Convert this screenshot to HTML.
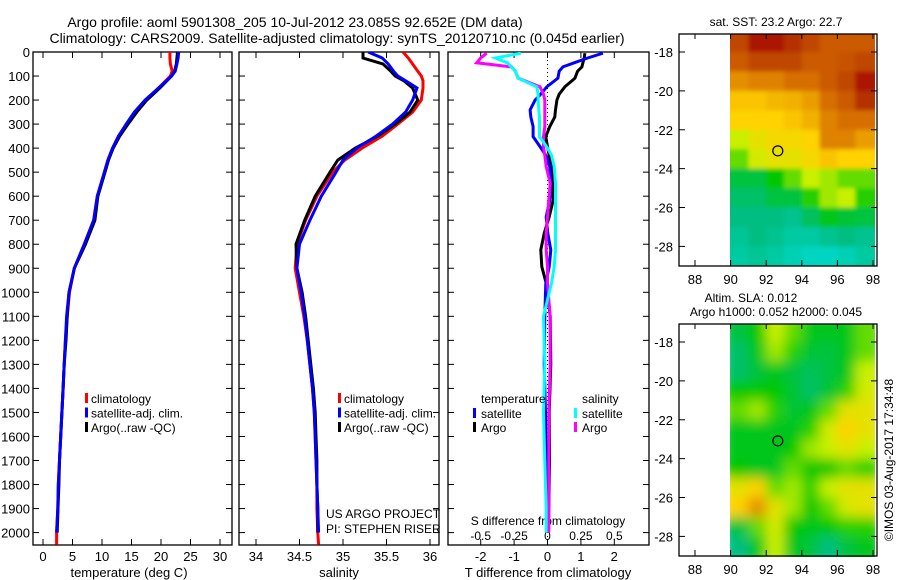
<!DOCTYPE html>
<html><head><meta charset="utf-8"><style>
body{margin:0;background:#fff;width:900px;height:580px;overflow:hidden}
svg{display:block;font-family:"Liberation Sans",sans-serif}
</style></head><body>
<svg id="c" width="900" height="580" xmlns="http://www.w3.org/2000/svg">
<defs>
<clipPath id="clipT"><rect x="33" y="52" width="199" height="493"/></clipPath>
<clipPath id="clipS"><rect x="239" y="52" width="200" height="493"/></clipPath>
<clipPath id="clipD"><rect x="448" y="52" width="201" height="493"/></clipPath>
<clipPath id="clipM2"><rect x="730" y="324" width="145" height="233"/></clipPath>
<filter id="blur"><feGaussianBlur stdDeviation="6"/></filter>
<filter id="blur2"><feGaussianBlur stdDeviation="2"/></filter>
<clipPath id="clipM1"><rect x="730" y="34" width="145" height="232"/></clipPath>
</defs>
</svg>
<script>
// ---- data ----
const depthT = [0,25,50,80,100,120,150,200,250,300,350,400,450,500,600,700,800,900,1000,1100,1200,1300,1400,1500,1600,1700,1800,1900,2000,2050];
const argoT = [22.8,22.7,22.6,22.3,21.8,21.0,19.8,17.6,15.9,14.4,13.0,11.9,11.1,10.5,9.3,8.8,7.2,5.3,4.4,4.1,3.9,3.6,3.4,3.2,3.0,2.8,2.7,2.55,2.4];
const climT = [21.5,21.5,21.6,21.9,21.6,20.8,19.6,17.4,15.7,14.2,12.8,11.8,11.0,10.4,9.2,8.6,7.0,5.3,4.5,4.1,3.8,3.6,3.4,3.2,3.0,2.8,2.6,2.5,2.3,2.3];
const satT = [23.0,22.9,22.7,22.4,21.8,20.9,19.6,17.3,15.5,14.1,12.8,11.8,11.0,10.4,9.2,8.6,7.0,5.3,4.4,4.0,3.8,3.6,3.4,3.2,3.0,2.8,2.6,2.5,2.3];
const argoS = [35.23,35.23,35.46,35.55,35.6,35.7,35.8,35.86,35.77,35.6,35.4,35.14,34.94,34.85,34.68,34.56,34.46,34.47,34.53,34.57,34.6,34.63,34.66,34.68,34.69,34.7,34.7,34.71,34.71];
const climS = [35.69,35.75,35.8,35.86,35.9,35.92,35.92,35.9,35.8,35.63,35.45,35.22,35.02,34.88,34.7,34.57,34.47,34.45,34.5,34.55,34.59,34.62,34.65,34.67,34.68,34.69,34.7,34.7,34.71,34.72];
const satS = [35.29,35.45,35.52,35.58,35.63,35.72,35.85,35.8,35.72,35.57,35.38,35.16,35.0,34.92,34.75,34.62,34.5,34.47,34.52,34.56,34.59,34.62,34.65,34.67,34.68,34.69,34.7,34.71,34.72];
const depthD = [5,25,45,62,80,109,145,175,200,241,270,310,352,395,430,477,546,616,686,755,824,893,962,1100,1300,1500,1700,1900,2000];
const dTargo = [1.12,1.1,1.06,1.03,0.9,0.82,0.52,0.35,0.28,0.24,0.22,0.07,-0.05,0,0.05,0.13,0.15,0.17,0.05,-0.1,-0.2,-0.17,-0.04,0.08,0.1,0.05,0.06,0.04,0.03];
const dTsat = [1.66,1.2,0.8,0.46,0.35,0.31,-0.02,-0.2,-0.37,-0.52,-0.5,-0.43,-0.43,-0.22,-0.05,0.07,0.1,0.07,-0.04,0.01,0.1,0.05,-0.05,-0.08,-0.1,-0.06,-0.04,-0.02,-0.02];
const dSargo = [-0.455,-0.5,-0.53,-0.27,-0.24,-0.22,-0.056,-0.03,-0.02,-0.02,-0.02,-0.02,-0.03,-0.03,-0.02,-0.01,0.02,0.01,0,-0.01,-0.01,0,0,0.02,0.02,0.01,0.01,0.01,0.01];
const dSsat = [-0.2,-0.39,-0.3,-0.27,-0.24,-0.22,-0.08,-0.07,-0.07,-0.065,-0.06,-0.06,-0.06,-0.005,0.03,0.05,0.06,0.06,0.06,0.06,0.06,0.05,0.03,-0.03,-0.02,-0.03,-0.02,-0.01,-0.01];
const depthTicks = [0,100,200,300,400,500,600,700,800,900,1000,1100,1200,1300,1400,1500,1600,1700,1800,1900,2000];
const tempTicks = [0,5,10,15,20,25,30];
const salTicks = [34,34.5,35,35.5,36];
const tdTicks = [-2,-1,0,1,2];
const sdTicks = [-0.5,-0.25,0,0.25,0.5];
const lonTicks = [88,90,92,94,96,98];
const latTicks = [-18,-20,-22,-24,-26,-28];
const sstGrid = [
[0.85,0.95,0.95,0.9,0.85,0.8,0.8,0.8],
[0.8,0.85,0.85,0.85,0.8,0.8,0.82,0.85],
[0.7,0.72,0.72,0.75,0.75,0.8,0.85,0.95],
[0.62,0.62,0.64,0.65,0.68,0.75,0.8,0.9],
[0.6,0.6,0.6,0.62,0.65,0.72,0.75,0.75],
[0.5,0.55,0.58,0.58,0.6,0.72,0.72,0.68],
[0.45,0.52,0.55,0.55,0.58,0.62,0.6,0.6],
[0.35,0.35,0.4,0.45,0.5,0.48,0.45,0.45],
[0.32,0.32,0.35,0.35,0.42,0.48,0.5,0.42],
[0.3,0.3,0.3,0.28,0.33,0.38,0.36,0.35],
[0.27,0.3,0.28,0.25,0.25,0.28,0.3,0.28],
[0.25,0.27,0.25,0.22,0.2,0.2,0.22,0.25]];
const slaGrid = [
[0.35,0.4,0.5,0.45,0.38,0.38,0.38,0.45],
[0.32,0.38,0.48,0.42,0.36,0.35,0.38,0.45],
[0.32,0.35,0.38,0.35,0.33,0.35,0.38,0.5],
[0.4,0.4,0.4,0.36,0.32,0.36,0.42,0.52],
[0.45,0.48,0.42,0.36,0.38,0.45,0.55,0.55],
[0.38,0.38,0.38,0.38,0.42,0.52,0.6,0.55],
[0.38,0.38,0.38,0.4,0.48,0.5,0.55,0.5],
[0.4,0.38,0.38,0.45,0.4,0.4,0.45,0.42],
[0.55,0.6,0.45,0.48,0.42,0.5,0.55,0.55],
[0.6,0.7,0.55,0.48,0.4,0.45,0.52,0.55],
[0.35,0.45,0.52,0.4,0.38,0.4,0.42,0.42],
[0.3,0.38,0.5,0.38,0.35,0.3,0.35,0.38]];
const argoLon = 92.652, argoLat = -23.085;

// ---- helpers ----
const svg = document.getElementById('c');
const NS = 'http://www.w3.org/2000/svg';
function mk(tag, attrs, parent){const e=document.createElementNS(NS,tag);for(const k in attrs)e.setAttribute(k,attrs[k]);(parent||svg).appendChild(e);return e;}
function txt(x,y,s,anchor,size,parent){const t=mk('text',{x:x,y:y,'text-anchor':anchor||'start','font-size':size||12,fill:'#000'},parent);t.textContent=s;return t;}
const yD = d => 52 + d*0.2403;
const xT = v => 43 + v*5.9;
const xS = v => 256 + (v-34)*87;
const xTd = v => 547.5 + v*33.4;
const xSd = v => 547.5 + v*133.6;

function line(xs, ds, xf, color, clip, name){
  const pts = xs.map((v,i)=>xf(v).toFixed(1)+','+yD(ds[i]).toFixed(1)).join(' ');
  const p = mk('polyline',{points:pts,fill:'none',stroke:color,'stroke-width':3,'clip-path':'url(#'+clip+')'});
  
  
}
function frame(x0,x1,name){
  const r = mk('rect',{x:x0,y:52,width:x1-x0,height:493,fill:'none',stroke:'#000','stroke-width':1.3});
  
  
  depthTicks.forEach(d=>{mk('line',{x1:x0,x2:x0+6,y1:yD(d),y2:yD(d),stroke:'#000'});mk('line',{x1:x1,x2:x1-6,y1:yD(d),y2:yD(d),stroke:'#000'});});
}

// titles
const t1 = txt(295,27,'Argo profile: aoml 5901308_205 10-Jul-2012 23.085S 92.652E (DM data)','middle',14);


const t2 = txt(337,43,'Climatology: CARS2009. Satellite-adjusted climatology: synTS_20120710.nc (0.045d earlier)','middle',14);



frame(33,232,'temperature-panel');
frame(239,439,'salinity-panel');
frame(448,649,'difference-panel');
depthTicks.forEach(d=>{const t=txt(30,yD(d)+5,String(d),'end',13);});
tempTicks.forEach(v=>{mk('line',{x1:xT(v),x2:xT(v),y1:545,y2:539,stroke:'#000'});mk('line',{x1:xT(v),x2:xT(v),y1:52,y2:58,stroke:'#000'});const t=txt(xT(v),561,String(v),'middle',13);});
const xl1=txt(129,577,'temperature (deg C)','middle',13);


line(climT,depthT,xT,'#f00','clipT','temperature-climatology-line');
line(argoT,depthT,xT,'#000','clipT','temperature-argo-line');
line(satT,depthT,xT,'#00f','clipT','temperature-satellite-line');

salTicks.forEach(v=>{mk('line',{x1:xS(v),x2:xS(v),y1:545,y2:539,stroke:'#000'});mk('line',{x1:xS(v),x2:xS(v),y1:52,y2:58,stroke:'#000'});const t=txt(xS(v),561,String(v),'middle',13);});
const xl2=txt(339,577,'salinity','middle',13);


line(climS,depthT,xS,'#f00','clipS','salinity-climatology-line');
line(argoS,depthT,xS,'#000','clipS','salinity-argo-line');
line(satS,depthT,xS,'#00f','clipS','salinity-satellite-line');
const p1=txt(326,518,'US ARGO PROJECT','start',12);


const p2=txt(326,533,'PI: STEPHEN RISER','start',12);



[[85,'legend-temperature'],[338,'legend-salinity']].forEach(([lx,nm])=>{
  const g = mk('g',{});
  
  
  [['#f00','climatology'],['#00f','satellite-adj. clim.'],['#000','Argo(..raw -QC)']].forEach((e,i)=>{
    mk('rect',{x:lx,y:393+i*14.5,width:3,height:10,fill:e[0]},g);
    txt(lx+6,403+i*14.5,e[1],'start',12,g);
  });
});

mk('line',{x1:547.5,x2:547.5,y1:52,y2:545,stroke:'#000','stroke-dasharray':'1,3'});
tdTicks.forEach(v=>{mk('line',{x1:xTd(v),x2:xTd(v),y1:545,y2:539,stroke:'#000'});mk('line',{x1:xTd(v),x2:xTd(v),y1:52,y2:58,stroke:'#000'});const t=txt(xTd(v),561,String(v),'middle',13);});
sdTicks.forEach(v=>{const t=txt(xSd(v),540,String(v),'middle',12);});
const xl3=txt(548,577,'T difference from climatology','middle',13);


const sl3=txt(548,525,'S difference from climatology','middle',12);


line(dTargo,depthD,xTd,'#000','clipD','t-diff-argo-line');
line(dTsat,depthD,xTd,'#00f','clipD','t-diff-satellite-line');
line(dSargo,depthD,xSd,'#f0f','clipD','s-diff-argo-line');
line(dSsat,depthD,xSd,'#0ff','clipD','s-diff-satellite-line');
const lg3 = mk('g',{});


txt(481,403,'temperature','start',12,lg3);
txt(582,403,'salinity','start',12,lg3);
[['#00f','satellite',473],['#000','Argo',473],['#0ff','satellite',574],['#f0f','Argo',574]].forEach((e,i)=>{
  const r=i%2;
  mk('rect',{x:e[2],y:408+r*14,width:3,height:10,fill:e[0]},lg3);
  txt(e[2]+8,418+r*14,e[1],'start',12,lg3);
});

function cmap(v){
  const st=[[0.15,[0,225,225]],[0.3,[0,190,130]],[0.4,[0,200,0]],[0.5,[200,240,0]],[0.6,[255,210,0]],[0.75,[215,110,0]],[0.9,[180,50,0]],[1,[160,0,0]]];
  if(v<=st[0][0])return 'rgb('+st[0][1]+')';
  for(let i=1;i<st.length;i++){if(v<=st[i][0]){const a=st[i-1],b=st[i],f=(v-a[0])/(b[0]-a[0]);return 'rgb('+a[1].map((c,k)=>Math.round(c+(b[1][k]-c)*f)).join(',')+')';}}
  return 'rgb(160,0,0)';
}
function mapPanel(top,grid,blur,name,clip,flt){
  const xL = lon => 695 + (lon-88)*17.8;
  const yL = lat => top + 18 + (-18-lat)*19.44;
  const g = mk('g', {'clip-path':'url(#'+clip+')'});
  
  
  const inner = mk('g',{filter:'url(#'+flt+')'},g);
  grid.forEach((row,ri)=>row.forEach((v,ci)=>{
    const lat0=-17-ri, lon0=90+ci;
    const ext = 8;
    const x0 = xL(lon0)-(ci===0?ext:0), x1 = xL(lon0+1)+(ci===7?ext:0);
    const y0 = yL(lat0)-(ri===0?ext:0), y1 = yL(lat0-1)+(ri===11?ext:0);
    const c = mk('rect',{x:x0.toFixed(1),y:y0.toFixed(1),width:(x1-x0+0.5).toFixed(1),height:(y1-y0+0.5).toFixed(1),fill:cmap(v)},inner);
    
    
  }));
  const fr = mk('rect',{x:679,y:top,width:198,height:232,fill:'none',stroke:'#000','stroke-width':1.3});
  
  
  lonTicks.forEach(l=>{mk('line',{x1:xL(l),x2:xL(l),y1:top+232,y2:top+226,stroke:'#000'});mk('line',{x1:xL(l),x2:xL(l),y1:top,y2:top+5,stroke:'#000'});const t=txt(xL(l),top+250,String(l),'middle',13);});
  latTicks.forEach(l=>{mk('line',{x1:679,x2:685,y1:yL(l),y2:yL(l),stroke:'#000'});mk('line',{x1:877,x2:871,y1:yL(l),y2:yL(l),stroke:'#000'});const t=txt(673,yL(l)+5,String(l),'end',13);});
  const m = mk('circle',{cx:xL(argoLon),cy:yL(argoLat),r:5,fill:'none',stroke:'#000','stroke-width':1.2});
  
  
}
mapPanel(34,sstGrid,false,'sst-map','clipM1','blur2');
mapPanel(324,slaGrid,true,'sla-map','clipM2','blur');
const mt1=txt(776,26,'sat. SST: 23.2 Argo: 22.7','middle',12);


const mt2=txt(751,302,'Altim. SLA: 0.012','middle',12);


const mt3=txt(776,316,'Argo h1000: 0.052 h2000: 0.045','middle',12);


const cr = txt(0,0,'©IMOS 03-Aug-2017 17:34:48','middle',12);
cr.setAttribute('transform','translate(893,460) rotate(-90)');


</script>
</body></html>
